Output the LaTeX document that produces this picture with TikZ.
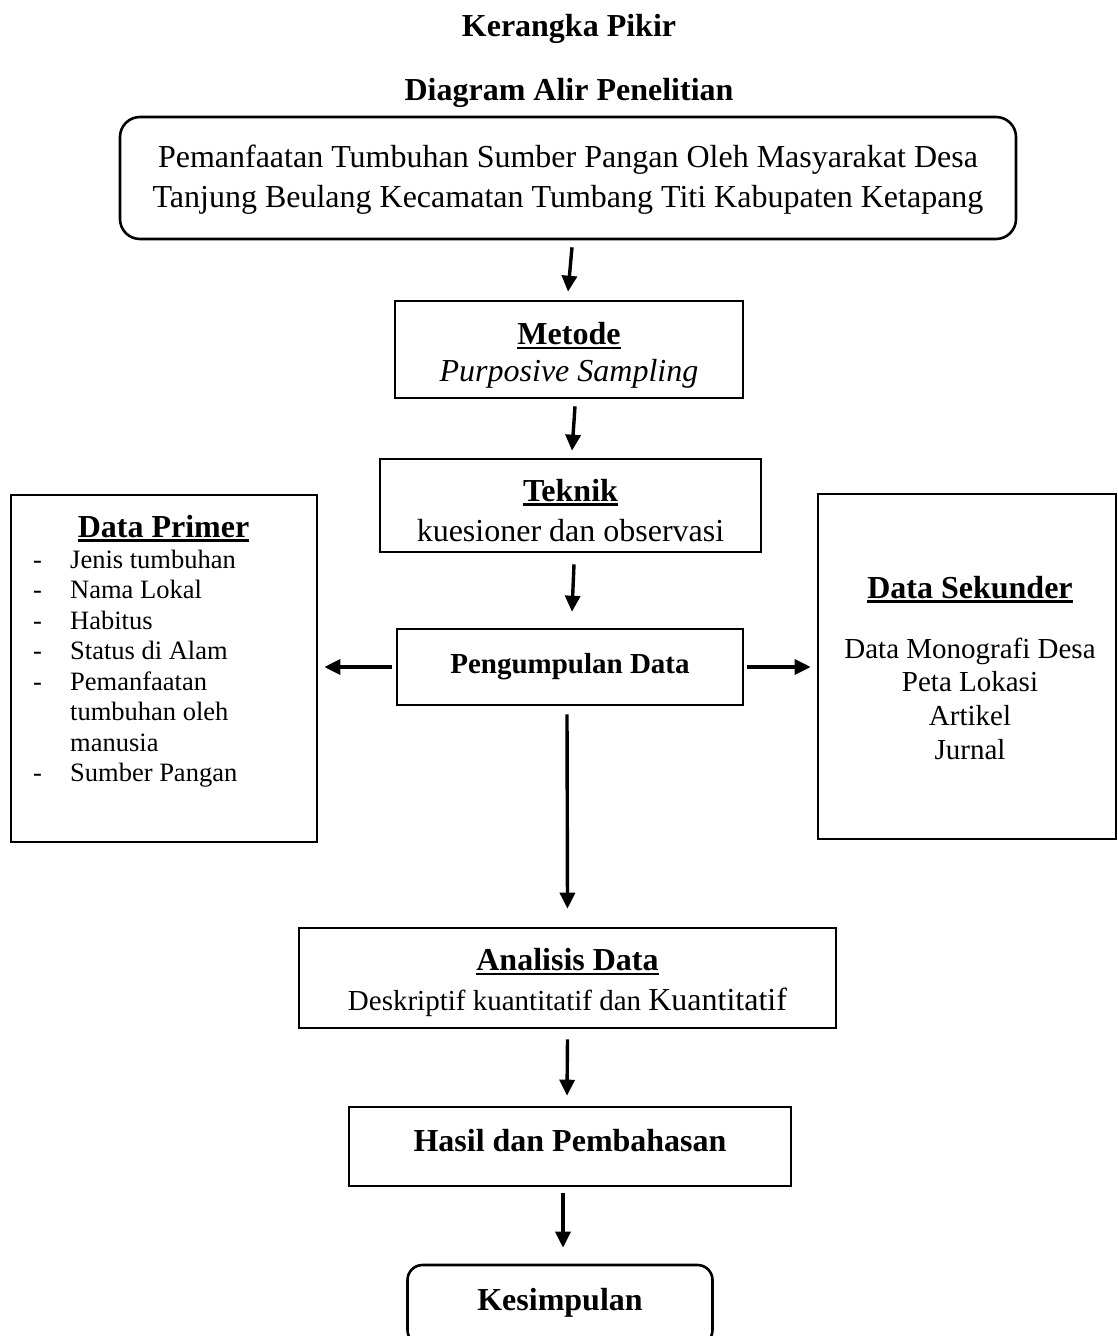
\documentclass[tikz,border=0pt]{standalone}
\usepackage{fontspec}
\setmainfont{Liberation Serif}
\usetikzlibrary{arrows.meta,calc}
\newcommand{\hdul}[1]{\setbox0\hbox{#1}\rlap{\vrule width\wd0 height -2pt depth 4.5pt}\box0}
\begin{document}
\begin{tikzpicture}[x=1pt,y=-1pt,
  box/.style={draw, line width=2.6pt, inner sep=0pt, align=center},
  arr/.style={line width=3.4pt, -{Triangle[length=16pt,width=15pt]}},
  head/.style={font=\fontsize{32}{38}\selectfont\bfseries, inner sep=0pt},
]
\useasboundingbox (0,0) rectangle (1117,1336);

% titles
\node[head, anchor=base] (t1) at (569,36) {Kerangka Pikir};
\node[head, anchor=base] (t2) at (569,100) {Diagram Alir Penelitian};

% top box
\node[box, rounded corners=20pt, minimum width=896pt, minimum height=122pt,
      font=\fontsize{32}{40}\selectfont] (top) at (568,178)
  {\rule{0pt}{26pt}Pemanfaatan Tumbuhan Sumber Pangan Oleh Masyarakat Desa\\
   Tanjung Beulang Kecamatan Tumbang Titi Kabupaten Ketapang};

% metode
\node[box, minimum width=348pt, minimum height=97pt,
      font=\fontsize{32}{37}\selectfont] (metode) at (569,349.5)
  {\rule{0pt}{34pt}\hdul{\bfseries Metode}\\ \itshape Purposive Sampling};

% teknik
\node[box, minimum width=381pt, minimum height=93pt,
      font=\fontsize{32}{40}\selectfont] (teknik) at (570.5,505.5)
  {\rule{0pt}{32pt}\hdul{\bfseries Teknik}\\ kuesioner dan observasi};

% pengumpulan data
\node[box, minimum width=346pt, minimum height=76pt,
      font=\fontsize{29}{34}\selectfont\bfseries] (pk) at (570,667)
  {Pengumpulan Data};

% data primer
\node[box, minimum width=306pt, minimum height=347pt] (dp) at (164,668.5) {};
\node[head, anchor=base] (dph) at (163.5,537) {\hdul{Data Primer}};
\node[inner sep=0pt, anchor=base west, font=\fontsize{26.5}{30.5}\selectfont] (dpl) at (33,568)
  {\begin{tabular}[t]{@{}p{37pt}@{}l@{}}
   - & Jenis tumbuhan\\
   - & Nama Lokal\\
   - & Habitus\\
   - & Status di Alam\\
   - & Pemanfaatan\\
     & tumbuhan oleh\\
     & manusia\\
   - & Sumber Pangan
   \end{tabular}};

% data sekunder
\node[box, minimum width=298pt, minimum height=345pt] (ds) at (967,666.5) {};
\node[head, anchor=base] (dsh) at (970,598) {\hdul{Data Sekunder}};
\node[inner sep=0pt, anchor=base, font=\fontsize{29}{33.7}\selectfont] (dsl) at (970,658)
  {\begin{tabular}[t]{@{}c@{}}
   Data Monografi Desa\\
   Peta Lokasi\\
   Artikel\\
   Jurnal
   \end{tabular}};

% analisis
\node[box, minimum width=537pt, minimum height=100pt,
      font=\fontsize{32}{40}\selectfont] (an) at (567.5,978)
  {\rule{0pt}{32pt}\hdul{\bfseries Analisis Data}\\ {\fontsize{29}{40}\selectfont Deskriptif kuantitatif dan }Kuantitatif};

% hasil
\node[box, minimum width=442pt, minimum height=79pt,
      font=\fontsize{32}{38}\selectfont\bfseries] (ha) at (570,1146.5)
  {Hasil dan Pembahasan\rule[-12pt]{0pt}{12pt}};

% kesimpulan (bottom edge runs past the page, as in the reference)
\node[box, rounded corners=15pt, minimum width=305pt, minimum height=80pt,
      font=\fontsize{32}{38}\selectfont\bfseries] (ks) at (560,1305)
  {Kesimpulan\rule[-10.4pt]{0pt}{1pt}};

% arrows
\draw[arr] ($(top.south)+(4,7)$) -- ($(metode.north)+(-1,-8)$);
\draw[arr] ($(metode.south)+(6,7)$) -- ($(teknik.north)+(1.5,-7)$);
\draw[arr] ($(teknik.south)+(3.5,11)$) -- ($(pk.north)+(2,-16)$);
\draw[arr] ($(pk.west)+(-4,0)$) -- ($(pk.west -| dp.east)+(6,0)$);
\draw[arr] ($(pk.east)+(3,0)$) -- ($(pk.east -| ds.west)+(-6,0)$);
\draw[arr] ($(pk.south)+(-3,8)$) -- ($(an.north)+(0,-18)$);
\draw[arr] ($(an.south)+(0,10)$) -- ($(ha.north)+(-3,-10)$);
\draw[arr] ($(ha.south)+(-7,6)$) -- ($(ks.north)+(3,-16)$);
\end{tikzpicture}
\end{document}
